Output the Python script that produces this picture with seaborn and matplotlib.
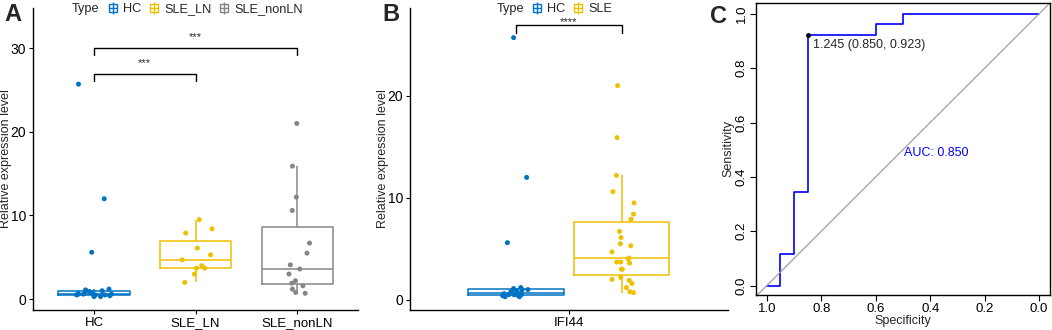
import numpy as np
import pandas as pd
import seaborn as sns
import matplotlib.pyplot as plt
from matplotlib.lines import Line2D

sns.set_theme(style="ticks")
plt.rcParams['font.family'] = ['Liberation Sans', 'DejaVu Sans']
np.random.seed(7)

# ---- data ----
hc = [25.7, 12.0, 5.6, 1.0, 0.6, 0.5, 0.3, 0.6, 1.1, 0.4, 0.3, 0.5,
      0.9, 0.7, 1.0, 1.2, 0.6, 0.8, 0.4, 0.5]
sle_ln = [9.5, 8.4, 7.9, 6.1, 5.3, 4.7, 3.7, 3.7, 4.0, 3.0, 2.0]
sle_nonln = [21.0, 15.9, 12.2, 10.6, 6.7, 5.5, 4.1, 3.6, 3.0, 2.2,
             1.9, 1.6, 1.2, 0.8, 0.7]
groups_a = ['HC', 'SLE_LN', 'SLE_nonLN']
groups_b = ['HC', 'SLE']
gene = 'IFI44'

# ROC curve (specificity, sensitivity)
roc_spec = [1.0, 0.95, 0.95, 0.90, 0.90, 0.85, 0.85, 0.60, 0.60, 0.50, 0.50, 0.0]
roc_sens = [0.0, 0.0, 0.115, 0.115, 0.346, 0.346, 0.923, 0.923, 0.962, 0.962, 1.0, 1.0]
best_point = (0.850, 0.923)
best_label = '1.245 (0.850, 0.923)'
auc_label = 'AUC: 0.850'

pal_a = {'HC': '#0073C2', 'SLE_LN': '#EFC000', 'SLE_nonLN': '#868686'}
pal_b = {'HC': '#0073C2', 'SLE': '#EFC000'}

df_a = pd.DataFrame({
    'Type': ['HC'] * len(hc) + ['SLE_LN'] * len(sle_ln) + ['SLE_nonLN'] * len(sle_nonln),
    'value': hc + sle_ln + sle_nonln,
})
df_b = pd.DataFrame({
    'gene': gene,
    'Type': ['HC'] * len(hc) + ['SLE'] * (len(sle_ln) + len(sle_nonln)),
    'value': hc + sle_ln + sle_nonln,
})

fig = plt.figure(figsize=(10.52, 3.30), dpi=100)
axA = fig.add_axes([0.0314, 0.0606, 0.309, 0.915])
axB = fig.add_axes([0.3897, 0.0606, 0.302, 0.915])
axC = fig.add_axes([0.7186, 0.106, 0.2795, 0.885])


def classic(ax, label_x):
    ax.spines['top'].set_visible(False)
    ax.spines['right'].set_visible(False)
    for s in ['left', 'bottom']:
        ax.spines[s].set_linewidth(1.0)
        ax.spines[s].set_color('black')
    ax.tick_params(length=3, width=0.8, labelsize=10, colors='black', pad=2)
    ax.tick_params(axis='x', labelsize=9.5)
    ax.set_ylabel('Relative expression level', fontsize=9)
    ax.yaxis.set_label_coords(label_x, 0.5)
    ax.set_xlabel('')


def bracket(ax, x1, x2, y, drop, text, ty):
    ax.plot([x1, x1, x2, x2], [y - drop, y, y, y - drop], color='black', lw=1.0)
    ax.text((x1 + x2) / 2, ty, text, ha='center', va='center', fontsize=8)


# ---- Panel A ----
sns.boxplot(data=df_a, x='Type', y='value', hue='Type', palette=pal_a, order=groups_a,
            fill=False, width=0.7, showfliers=False, showcaps=False,
            linewidth=1.1, legend=False, ax=axA)
sns.stripplot(data=df_a, x='Type', y='value', hue='Type', palette=pal_a, order=groups_a,
              jitter=0.18, size=3.6, legend=False, ax=axA)
axA.set_xlim(-0.6, 2.6)
axA.set_ylim(-1.3, 34.8)
axA.set_yticks([0, 10, 20, 30])
classic(axA, -0.064)
bracket(axA, 0, 1, 26.9, 0.8, '***', 28.2)
bracket(axA, 0, 2, 30.0, 0.8, '***', 31.3)

# ---- Panel B ----
sns.boxplot(data=df_b, x='gene', y='value', hue='Type', palette=pal_b, hue_order=groups_b,
            fill=False, width=0.8, gap=0.1, showfliers=False, showcaps=False,
            linewidth=1.1, legend=False, ax=axB)
sns.stripplot(data=df_b, x='gene', y='value', hue='Type', palette=pal_b, hue_order=groups_b,
              dodge=True, jitter=0.1, size=3.6, legend=False, ax=axB)
axB.set_xlim(-0.6, 0.6)
axB.set_ylim(-1.0, 28.6)
axB.set_yticks([0, 10, 20])
classic(axB, -0.067)
bracket(axB, -0.2, 0.2, 26.9, 0.7, '****', 27.2)


# legends with small boxplot glyphs
def make_legend(x, groups, pal):
    handles = [Line2D([], [], linestyle='none')]
    labels = ['Type']
    for g in groups:
        whisk = Line2D([], [], linestyle='none', marker='|', markersize=9,
                       markeredgewidth=1.0, color=pal[g])
        box = Line2D([], [], linestyle='none', marker='s', markersize=6,
                     markerfacecolor='white', markeredgewidth=1.0, color=pal[g])
        mid = Line2D([], [], linestyle='none', marker='+', markersize=6,
                     markeredgewidth=1.0, color=pal[g])
        handles.append((whisk, box, mid))
        labels.append(g)
    fig.legend(handles, labels, loc='center', bbox_to_anchor=(x, 0.972), ncol=len(labels),
               frameon=False, fontsize=9.2, handlelength=0.9, handletextpad=0.35,
               columnspacing=0.55, borderpad=0)

make_legend(0.1706, groups_a, pal_a)
make_legend(0.5195, groups_b, pal_b)

# ---- Panel C ----
sns.lineplot(x=roc_spec, y=roc_sens, sort=False, estimator=None, color='#0000FF',
             lw=1.2, ax=axC)
axC.axline((1, 0), (0, 1), color='#A0A0A0', lw=0.9)
axC.plot([best_point[0]], [best_point[1]], 'o', color='black', ms=2.5)
axC.text(0.83, 0.885, best_label, fontsize=9, ha='left', va='center')
axC.text(0.495, 0.487, auc_label, fontsize=9, ha='left', va='center', color='#0000FF')
axC.set_xlim(1.04, -0.04)
axC.set_ylim(-0.035, 1.04)
axC.set_xticks(np.arange(0, 1.01, 0.2))
axC.set_yticks(np.arange(0, 1.01, 0.2))
axC.set_xticklabels([f'{v:.1f}' for v in np.arange(0, 1.01, 0.2)])
axC.set_yticklabels([f'{v:.1f}' for v in np.arange(0, 1.01, 0.2)], rotation=90, va='center')
for s in axC.spines.values():
    s.set_linewidth(1.0)
    s.set_color('black')
axC.tick_params(length=4, width=0.8, labelsize=9.5, colors='black', pad=2)
axC.set_xlabel('Specificity', fontsize=9, labelpad=0)
axC.set_ylabel('Sensitivity', fontsize=9, labelpad=1)

# panel letters
fig.text(0.004, 0.955, 'A', fontsize=17, fontweight='bold', va='center')
fig.text(0.363, 0.955, 'B', fontsize=17, fontweight='bold', va='center')
fig.text(0.675, 0.95, 'C', fontsize=17, fontweight='bold', va='center')

fig.savefig('out.png', dpi=100)
